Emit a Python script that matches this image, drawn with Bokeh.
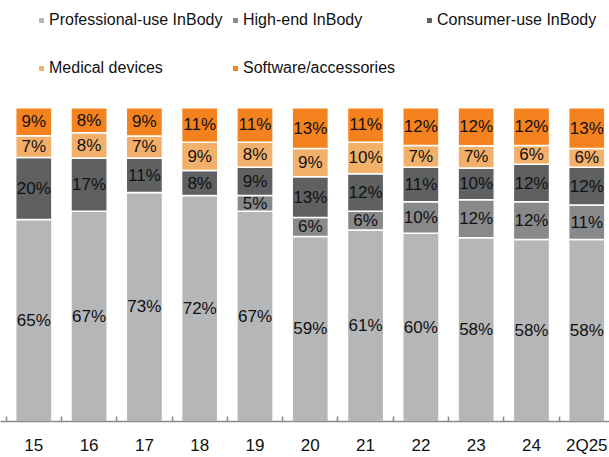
from bokeh.plotting import figure
from bokeh.models import ColumnDataSource, Range1d, FixedTicker, Legend, LegendItem
from bokeh.core.properties import value
from bokeh.embed import file_html
from bokeh.resources import INLINE

categories = ["15", "16", "17", "18", "19", "20", "21", "22", "23", "24", "2Q25"]
professional = [65, 67, 73, 72, 67, 59, 61, 60, 58, 58, 58]
high_end = [0, 0, 0, 0, 5, 6, 6, 10, 12, 12, 11]
consumer = [20, 17, 11, 8, 9, 13, 12, 11, 10, 12, 12]
medical = [7, 8, 7, 9, 8, 9, 10, 7, 7, 6, 6]
software = [9, 8, 9, 11, 11, 13, 11, 12, 12, 12, 13]

series_names = ["Professional-use InBody", "High-end InBody", "Consumer-use InBody",
                "Medical devices", "Software/accessories"]
series_values = [professional, high_end, consumer, medical, software]
colors = ["#b5b6b8", "#88898b", "#5e6062", "#f3b06a", "#f4821f"]

FONT = "Liberation Sans"
TEXT_COLOR = "#111111"
FS = "16px"
FS_BIG = "17px"

xs = list(range(len(categories)))
totals = [sum(s[i] for s in series_values) for i in xs]

p = figure(width=609, height=457, output_backend="svg", toolbar_location=None,
           x_range=Range1d(-0.602, 10.411), y_range=Range1d(0, 1.3418),
           min_border_left=0, min_border_right=0, min_border_top=0, min_border_bottom=35)
p.outline_line_color = None
p.xgrid.visible = False
p.ygrid.visible = False
p.yaxis.visible = False

renderers = []
lab_x, lab_y, lab_t = [], [], []
bottoms = [0.0] * len(xs)
for name, vals, col in zip(series_names, series_values, colors):
    b = list(bottoms)
    t = [b[i] + vals[i] / totals[i] for i in xs]
    src = ColumnDataSource(dict(x=xs, bottom=b, top=t))
    r = p.vbar(x="x", bottom="bottom", top="top", width=0.655, source=src,
               fill_color=col, line_color="white", line_width=1.5)
    renderers.append(r)
    for i in xs:
        if vals[i] > 0:
            lab_x.append(i)
            lab_y.append((b[i] + t[i]) / 2)
            lab_t.append(f"{vals[i]}%")
    bottoms = t

lsrc = ColumnDataSource(dict(x=lab_x, y=lab_y, t=lab_t))
p.text(x="x", y="y", text="t", source=lsrc, text_align="center", text_baseline="middle",
       text_font=value(FONT), text_font_size=FS_BIG, text_color=TEXT_COLOR)

ax = p.xaxis[0]
ax.ticker = FixedTicker(ticks=xs, minor_ticks=[i - 0.5 for i in range(len(xs) + 1)])
ax.major_label_overrides = {i: c for i, c in zip(xs, categories)}
ax.major_tick_in = 0
ax.major_tick_out = 0
ax.minor_tick_in = 5
ax.minor_tick_out = 0
ax.axis_line_color = "#8a8a8a"
ax.axis_line_width = 1.5
ax.minor_tick_line_color = "#8a8a8a"
ax.minor_tick_line_width = 1.5
ax.major_label_standoff = 14
ax.major_label_text_font = FONT
ax.major_label_text_font_size = FS_BIG
ax.major_label_text_color = TEXT_COLOR


def make_legend(idx, loc):
    items = [LegendItem(label=series_names[k], renderers=[renderers[k]]) for k in idx]
    lg = Legend(items=items, orientation="horizontal", location=loc,
                label_width=182, label_height=22, spacing=0, glyph_width=8, glyph_height=8,
                label_standoff=4, label_text_font=FONT, label_text_font_size=FS,
                label_text_color=TEXT_COLOR, padding=0, margin=0,
                background_fill_alpha=0, border_line_alpha=0)
    return lg


p.add_layout(make_legend([0, 1, 2], (37, 390)))
p.add_layout(make_legend([3, 4], (37, 342)))

open("out.html", "w").write(file_html(p, INLINE))
